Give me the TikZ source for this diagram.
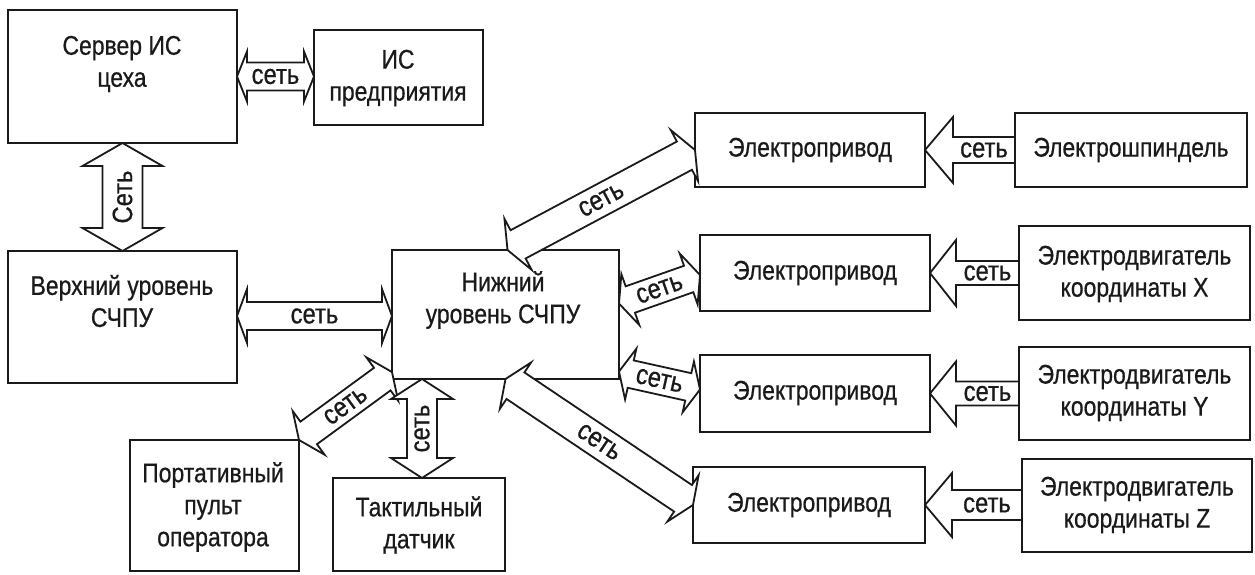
\documentclass[tikz,border=0pt]{standalone}
\usepackage{fontspec}
\setmainfont{Liberation Sans}[FakeStretch=0.85, FakeBold=0.6]
\usetikzlibrary{calc}
\definecolor{ink}{HTML}{1A1A1A}
\newdimen\naAx \newdimen\naAy \newdimen\naBx \newdimen\naBy
\newcommand\getang[2]{%
  \pgfextractx{\naAx}{\pgfpointanchor{#1}{center}}%
  \pgfextracty{\naAy}{\pgfpointanchor{#1}{center}}%
  \pgfextractx{\naBx}{\pgfpointanchor{#2}{center}}%
  \pgfextracty{\naBy}{\pgfpointanchor{#2}{center}}%
  \pgfmathsetmacro\naAng{atan2(\naBy-\naAy,\naBx-\naAx)}%
  \pgfmathsetmacro\naLen{veclen(\naBx-\naAx,\naBy-\naAy)}%
}
% #1 from, #2 to, #3 shaft half width, #4 head half width, #5 head length, #6 label name, #7 label
\newcommand\dblarrow[7]{%
  \getang{#1}{#2}%
  \begin{scope}[shift={(#1)}, rotate=\naAng, x=1pt, y=1pt]
    \draw[netarrow] (0,0) -- (#5,#4) -- (#5,#3) -- (\naLen-#5,#3) -- (\naLen-#5,#4) -- (\naLen,0)
      -- (\naLen-#5,-#4) -- (\naLen-#5,-#3) -- (#5,-#3) -- (#5,-#4) -- cycle;
    \node[netlabel, rotate=\naAng] (#6) at (\naLen/2,0) {#7};
  \end{scope}}
% #1 tip, #2 tail
\newcommand\sglarrow[7]{%
  \getang{#1}{#2}%
  \begin{scope}[shift={(#1)}, rotate=\naAng, x=1pt, y=1pt]
    \draw[netarrow] (0,0) -- (#5,#4) -- (#5,#3) -- (\naLen,#3) -- (\naLen,-#3)
      -- (#5,-#3) -- (#5,-#4) -- cycle;
    \node[netlabel, rotate=\naAng] (#6) at ({(\naLen+#5)/2},0) {#7};
  \end{scope}}
\begin{document}
\begin{tikzpicture}[x=1pt, y=-1pt,
  box/.style={draw=ink, line width=2.2pt, outer sep=0pt, inner sep=0pt},
  txt/.style={align=center, text=ink, font=\fontsize{27}{32}\selectfont, inner sep=0pt},
  netarrow/.style={draw=ink, line width=1.8pt, fill=white, line join=miter},
  netlabel/.style={text=ink, font=\fontsize{28}{32}\selectfont, inner sep=0pt}]
\useasboundingbox (0,0) rectangle (1255,575);
\fill[white] (0,0) rectangle (1255,575);

% boxes
\node[box, minimum width=229pt, minimum height=133pt] (srv) at (122.5,76.5) {};
\node[box, minimum width=169pt, minimum height=95pt] (isp) at (398.5,77.5) {};
\node[box, minimum width=229pt, minimum height=132pt] (vrh) at (122.5,317) {};
\node[box, minimum width=227pt, minimum height=129pt] (nzh) at (505.5,314.5) {};
\node[box, minimum width=169pt, minimum height=131pt] (port) at (214.5,505.5) {};
\node[box, minimum width=172pt, minimum height=93pt] (takt) at (419,524.5) {};
\node[box, minimum width=230pt, minimum height=74pt] (ep1) at (810,150) {};
\node[box, minimum width=230pt, minimum height=76pt] (ep2) at (815,273) {};
\node[box, minimum width=230pt, minimum height=77pt] (ep3) at (815,393.5) {};
\node[box, minimum width=232pt, minimum height=76pt] (ep4) at (809,505) {};
\node[box, minimum width=232pt, minimum height=74pt] (spd) at (1131,150) {};
\node[box, minimum width=231pt, minimum height=94pt] (dvx) at (1134.5,273) {};
\node[box, minimum width=231pt, minimum height=93pt] (dvy) at (1134.5,393.5) {};
\node[box, minimum width=230pt, minimum height=93pt] (dvz) at (1137,505.5) {};

% texts
\node[txt] (srvT) at (122,64) {Сервер ИС\\цеха};
\node[txt] (ispT) at (398,78) {ИС\\предприятия};
\node[txt] (vrhT) at (122,301) {Верхний уровень\\СЧПУ};
\node[txt] (nzhT) at (503,300) {Нижний\\уровень СЧПУ};
\node[txt] (portT) at (213,507) {Портативный\\пульт\\оператора};
\node[txt] (taktT) at (419,525) {Тактильный\\датчик};
\node[txt] (ep1T) at (810,150) {Электропривод};
\node[txt] (ep2T) at (815,273) {Электропривод};
\node[txt] (ep3T) at (815,393) {Электропривод};
\node[txt] (ep4T) at (809,505) {Электропривод};
\node[txt] (spdT) at (1131,150) {Электрошпиндель};
\node[txt] (dvxT) at (1134.5,274) {Электродвигатель\\координаты X};
\node[txt] (dvyT) at (1134.5,393) {Электродвигатель\\координаты Y};
\node[txt] (dvzT) at (1137,505) {Электродвигатель\\координаты Z};

% connector end points
\coordinate (a1) at (srv.east);
\coordinate (a2) at (isp.west |- srv.east);
\coordinate (b1) at (vrh.north);
\coordinate (b2) at (srv.south);
\coordinate (c1) at ($(vrh.east)+(0,-1)$);
\coordinate (c2) at (nzh.west |- c1);
\coordinate (d1) at (port.north east);
\coordinate (d2) at ($(nzh.south west)+(0,-7)$);
\coordinate (e1) at ($(takt.north)+(3,0)$);
\coordinate (e2) at (e1 |- nzh.south);
\coordinate (f1) at ($(nzh.north)+(2,0)$);
\coordinate (f2) at (ep1.west);
\coordinate (g1) at ($(nzh.east)+(0,-11)$);
\coordinate (g2) at ($(ep2.west)+(0,2)$);
\coordinate (h1) at ($(nzh.east)+(0,57)$);
\coordinate (h2) at ($(ep3.west)+(0,-4)$);
\coordinate (i1) at (nzh.south);
\coordinate (i2) at (ep4.west);
\coordinate (j1) at (ep1.east);
\coordinate (j2) at (spd.west |- ep1.east);
\coordinate (k1) at (ep2.east);
\coordinate (k2) at (dvx.west |- ep2.east);
\coordinate (l1) at (ep3.east);
\coordinate (l2) at (dvy.west |- ep3.east);
\coordinate (m1) at (ep4.east);
\coordinate (m2) at (dvz.west |- ep4.east);

% network arrows
\dblarrow{a1}{a2}{14}{25}{10}{aL}{сеть}
\dblarrow{b1}{b2}{20}{40}{23}{bL}{Сеть}
\dblarrow{c1}{c2}{14}{27}{10}{cL}{сеть}
\dblarrow{d1}{d2}{14}{27}{12}{dL}{сеть}
\dblarrow{e1}{e2}{15}{31}{20}{eL}{сеть}
\dblarrow{f1}{f2}{16}{29}{12}{fL}{сеть}
\dblarrow{g1}{g2}{14}{27}{12}{gL}{сеть}
\dblarrow{h1}{h2}{14}{26}{12}{hL}{сеть}
\dblarrow{i1}{i2}{16}{28}{12}{iL}{сеть}
\sglarrow{j1}{j2}{13}{33}{28}{jL}{сеть}
\sglarrow{k1}{k2}{12}{33}{26}{kL}{сеть}
\sglarrow{l1}{l2}{12}{32}{26}{lL}{сеть}
\sglarrow{m1}{m2}{15}{32}{27}{mL}{сеть}
\end{tikzpicture}
\end{document}
